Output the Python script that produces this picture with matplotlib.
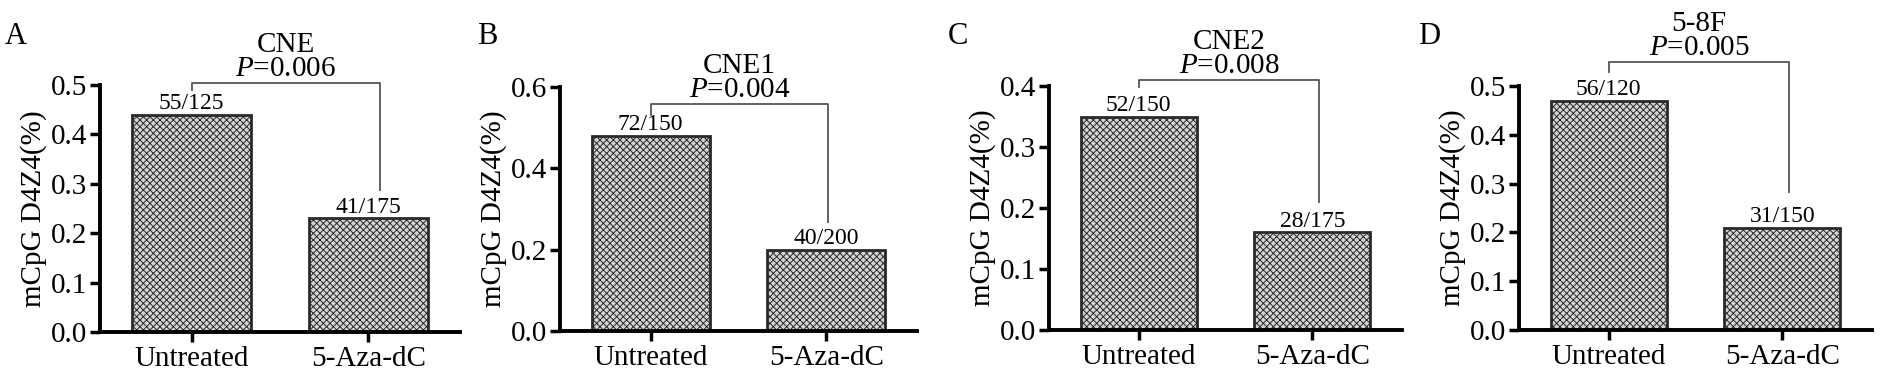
import matplotlib
matplotlib.use("Agg")
import matplotlib.pyplot as plt

# === Data ===
groups = ["Untreated", "5-Aza-dC"]
panel_letters = ["A", "B", "C", "D"]
cell_lines = ["CNE", "CNE1", "CNE2", "5-8F"]
p_values = ["0.006", "0.004", "0.008", "0.005"]
untreated = [0.44, 0.48, 0.35, 0.47]
aza = [0.23, 0.20, 0.16, 0.21]
untreated_labels = ["55/125", "72/150", "52/150", "56/120"]
aza_labels = ["41/175", "40/200", "28/175", "31/150"]
y_max = [0.5, 0.6, 0.4, 0.5]
y_step = [0.1, 0.2, 0.1, 0.1]

# bracket heights (data units): top, left drop, right drop
br_top = [0.504, 0.558, 0.41, 0.549]
br_left = [0.49, 0.531, 0.398, 0.529]
br_right = [0.287, 0.268, 0.21, 0.283]
br_x_right = [1.065, 1.01, 1.04, 1.04]

# === Style ===
plt.rcParams["font.family"] = ["Liberation Serif", "DejaVu Serif"]
plt.rcParams["mathtext.fontset"] = "custom"
plt.rcParams["mathtext.rm"] = "Liberation Serif"
plt.rcParams["mathtext.it"] = "Liberation Serif:italic"
plt.rcParams["hatch.color"] = "#6e6e6e"
plt.rcParams["hatch.linewidth"] = 0.7

W, H = 1883, 375
fig = plt.figure(figsize=(W / 100, H / 100), dpi=100)

# axes boxes in pixels: left, right, y of top tick, y of zero
boxes = [(100, 460, 85, 332), (560, 917, 87, 331),
         (1049, 1402, 86, 330), (1519, 1872, 86, 330)]
letter_x = [5, 477, 948, 1418]

for i in range(4):
    l, r, t, b = boxes[i]
    ax = fig.add_axes([l / W, 1 - b / H, (r - l) / W, (b - t) / H])
    vals = [untreated[i], aza[i]]
    ax.bar([0, 1], vals, width=0.67, color="#d4d4d4", edgecolor="#2a2a2a",
           linewidth=2, hatch="xxxxx")
    ax.set_xlim(-0.517, 1.517)
    ax.set_ylim(0, y_max[i])
    n = int(round(y_max[i] / y_step[i]))
    ax.set_yticks([k * y_step[i] for k in range(n + 1)])
    ax.yaxis.set_major_formatter(matplotlib.ticker.FormatStrFormatter("%.1f"))
    ax.set_xticks([0, 1])
    ax.set_xticklabels(groups)
    ax.tick_params(axis="both", labelsize=21, width=2.5, length=7, direction="out")
    ax.tick_params(axis="y", pad=2)
    ax.tick_params(axis="x", pad=3)
    for s in ["top", "right"]:
        ax.spines[s].set_visible(False)
    for s in ["left", "bottom"]:
        ax.spines[s].set_linewidth(2.8)
    ax.set_ylabel("mCpG D4Z4(%)", fontsize=21, labelpad=3)

    # value labels
    for x, v, lab in zip([0, 1], vals, [untreated_labels[i], aza_labels[i]]):
        ax.annotate(lab, (x, v), xytext=(0, 0.5), textcoords="offset points",
                    ha="center", va="bottom", fontsize=17)

    # significance bracket
    xl, xr = 0.0, br_x_right[i]
    ax.plot([xl, xl, xr, xr], [br_left[i], br_top[i], br_top[i], br_right[i]],
            color="#555555", lw=1.3, clip_on=False)
    ax.annotate(cell_lines[i] + "\n$P$=" + p_values[i], ((xl + xr) / 2, br_top[i]),
                xytext=(0, 0.5), textcoords="offset points", ha="center",
                va="bottom", fontsize=21, linespacing=0.9, annotation_clip=False)

    fig.text(letter_x[i] / W, 1 - 37 / H, panel_letters[i], fontsize=22,
             ha="left", va="center")

fig.savefig("out.png", dpi=100)
